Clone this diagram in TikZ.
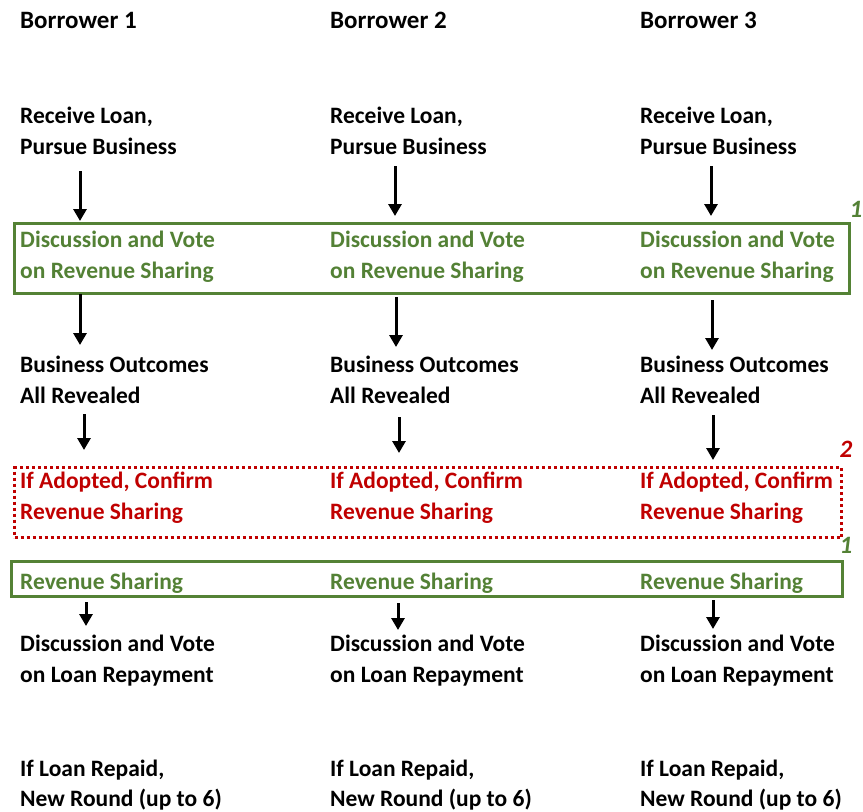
\documentclass[tikz,border=0pt]{standalone}
\usepackage{fontspec}
\setmainfont{Carlito}
\usetikzlibrary{arrows.meta}
\definecolor{boxgreen}{HTML}{548235}
\definecolor{txtgreen}{HTML}{538135}
\definecolor{boxred}{HTML}{C00000}
\tikzset{
  lbl/.style={anchor=base west,inner sep=0pt,font=\fontsize{23.5}{31}\selectfont\bfseries},
  ttl/.style={anchor=base west,inner sep=0pt,font=\fontsize{25}{31}\selectfont\bfseries},
  glbl/.style={lbl,text=txtgreen},
  rlbl/.style={lbl,text=boxred},
  num/.style={inner sep=0pt,font=\fontsize{25}{28}\selectfont\bfseries\itshape},
  flow/.style={line width=3pt,-{Triangle[length=12pt,width=13pt]}},
  gbox/.style={draw=boxgreen,line width=3pt},
  rbox/.style={draw=boxred,line width=3pt,dash pattern=on 3pt off 3pt},
}
\begin{document}
\begin{tikzpicture}[x=1pt,y=-1pt]
\useasboundingbox (0,0) rectangle (863,812);
% boxes
\node[gbox,minimum width=835pt,minimum height=70pt,anchor=north west,inner sep=0pt] (g1) at (13,222) {};
\node[rbox,minimum width=827pt,minimum height=70pt,anchor=north west,inner sep=0pt] (r2) at (13,466) {};
\node[gbox,minimum width=831pt,minimum height=35pt,anchor=north west,inner sep=0pt] (g2) at (10,560) {};
\node[num,text=txtgreen] (n1a) at (856,209) {1};
\node[num,text=boxred] (n2) at (846,449) {2};
\node[num,text=txtgreen] (n1b) at (846,545) {1};
% columns
\foreach \i/\x in {1/20,2/330,3/640}{
  \node[ttl] (b\i) at (\x,28) {Borrower \i};
  \node[lbl] (ra\i) at (\x,123) {Receive Loan,};
  \node[lbl] (rb\i) at (\x,154) {Pursue Business};
  \node[glbl] (da\i) at (\x,247) {Discussion and Vote};
  \node[glbl] (db\i) at (\x,278) {on Revenue Sharing};
  \node[lbl] (oa\i) at (\x,372) {Business Outcomes};
  \node[lbl] (ob\i) at (\x,403) {All Revealed};
  \node[rlbl] (ca\i) at (\x,488) {If Adopted, Confirm};
  \node[rlbl] (cb\i) at (\x,519) {Revenue Sharing};
  \node[glbl] (s\i) at (\x,589) {Revenue Sharing};
  \node[lbl] (la\i) at (\x,651) {Discussion and Vote};
  \node[lbl] (lb\i) at (\x,682) {on Loan Repayment};
  \node[lbl] (na\i) at (\x,776) {If Loan Repaid,};
  \node[lbl] (nb\i) at (\x,806) {New Round (up to 6)};
}
% arrow end points
\coordinate (a1s) at (80,171); \coordinate (a1e) at (80,221);
\coordinate (a2s) at (395,166); \coordinate (a2e) at (395,216);
\coordinate (a3s) at (711,166); \coordinate (a3e) at (711,216);
\coordinate (b1s) at (80,294); \coordinate (b1e) at (80,345);
\coordinate (b2s) at (396,297); \coordinate (b2e) at (396,347);
\coordinate (b3s) at (712,300); \coordinate (b3e) at (712,350);
\coordinate (c1s) at (84,414); \coordinate (c1e) at (84,450);
\coordinate (c2s) at (399,417); \coordinate (c2e) at (399,453);
\coordinate (c3s) at (713,415); \coordinate (c3e) at (713,460);
\coordinate (d1s) at (86,602); \coordinate (d1e) at (86,626);
\coordinate (d2s) at (398,603); \coordinate (d2e) at (398,630);
\coordinate (d3s) at (713,600); \coordinate (d3e) at (713,629);
\foreach \r in {a,b,c,d}{
  \foreach \i in {1,2,3}{
    \draw[flow] (\r\i s) -- (\r\i e);
  }
}
\end{tikzpicture}
\end{document}
